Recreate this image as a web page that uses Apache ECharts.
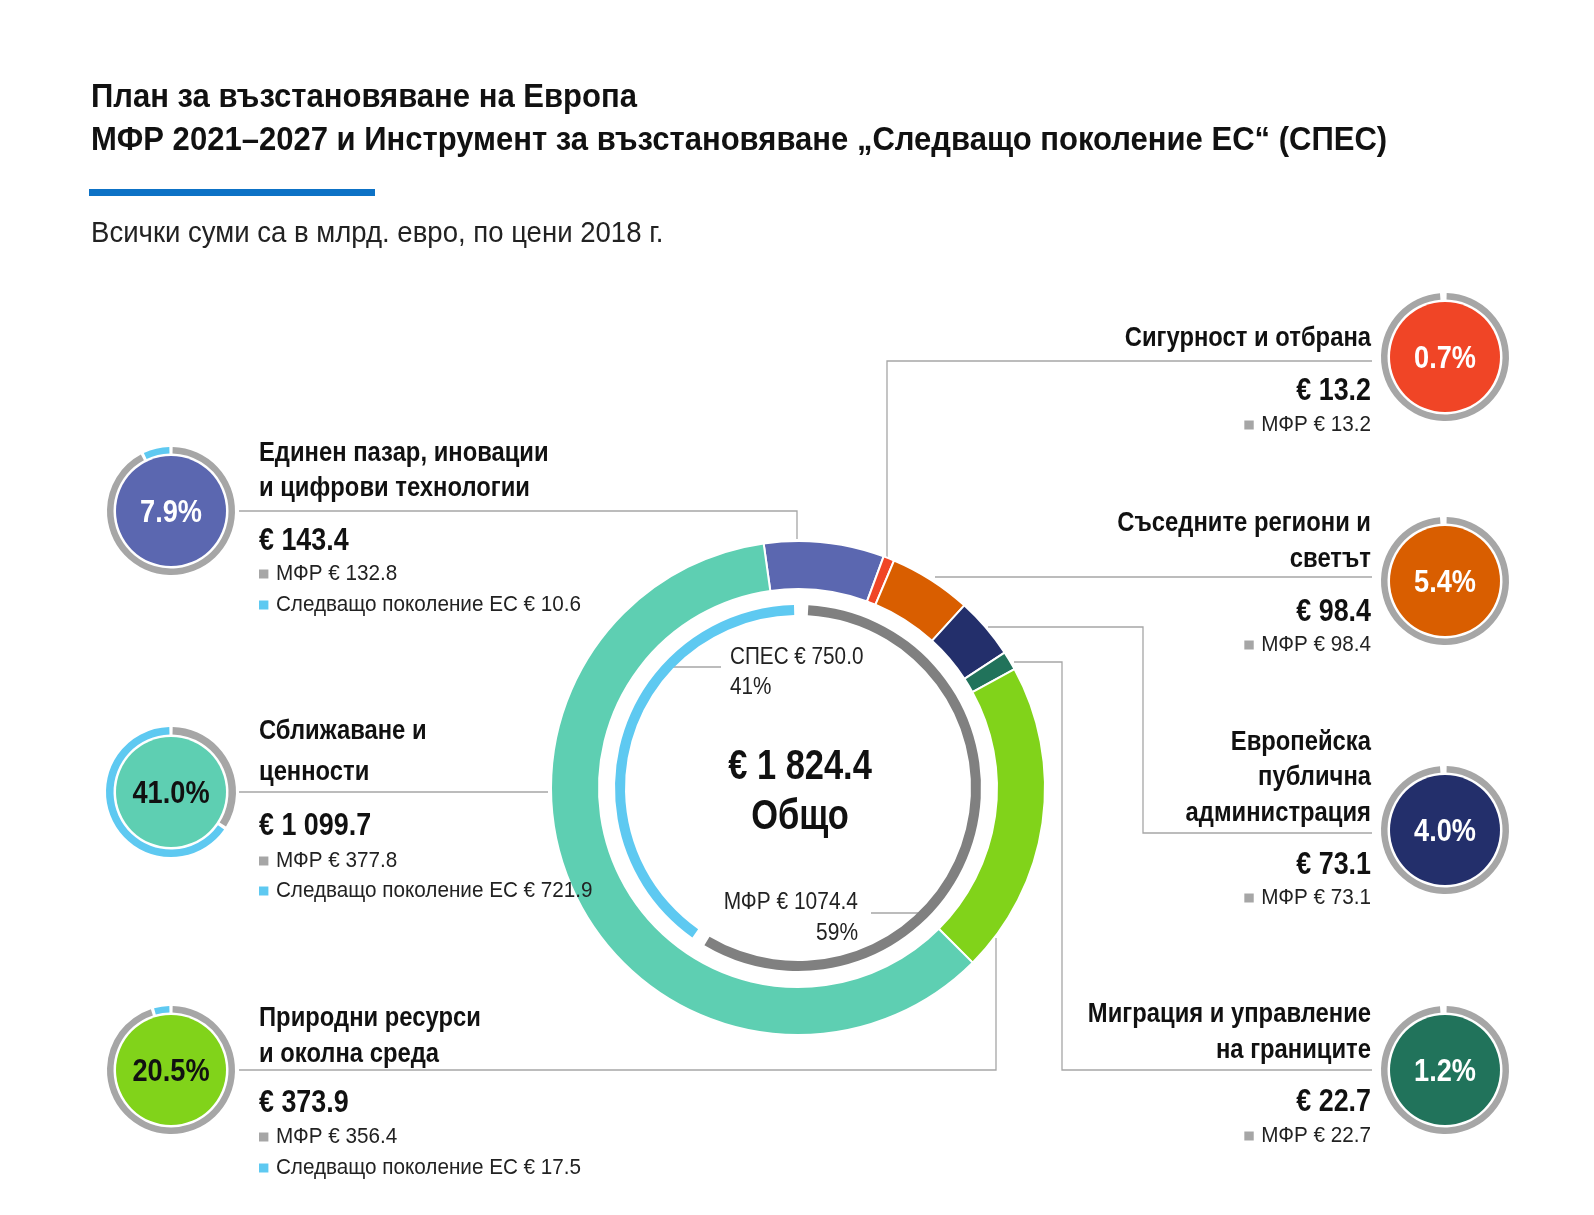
<!DOCTYPE html>
<html><head><meta charset="utf-8">
<script src="https://cdn.jsdelivr.net/npm/echarts@6/dist/echarts.min.js"></script>
<style>html,body{margin:0;padding:0;background:#fff}#c{width:1594px;height:1215px}</style>
</head><body><div id="c"></div>
<script>
// ---- data ----
const categories = ['Единен пазар, иновации\nи цифрови технологии','Сигурност и отбрана','Съседните региони и\nсветът','Европейска\nпублична\nадминистрация','Миграция и управление\nна границите','Природни ресурси\nи околна среда','Сближаване и\nценности'];
const totals = [143.4, 13.2, 98.4, 73.1, 22.7, 373.9, 1099.7];
const mffValues = [132.8, 13.2, 98.4, 73.1, 22.7, 356.4, 377.8];
const ngeuValues = [10.6, 0, 0, 0, 0, 17.5, 721.9];
const amountLabels = ['€ 143.4','€ 13.2','€ 98.4','€ 73.1','€ 22.7','€ 373.9','€ 1 099.7'];
const pctLabels = ['7.9%','0.7%','5.4%','4.0%','1.2%','20.5%','41.0%'];
const fundNames = ['МФР','СПЕС'];
const fundValues = [1074.4, 750.0];
const fundShares = ['59%','41%'];
const grandTotalLabel = '€ 1 824.4';
const totalWord = 'Общо';
const ngeuName = 'Следващо поколение ЕС';

// ---- style ----
const F = '"Liberation Sans",Arial,sans-serif';
const colors = ['#5b67b0','#f04526','#d95e00','#232f6b','#21735b','#81d31a','#5ecfb2'];
const GREY = '#a6a6a6', BLUE = '#5ec9f1', LINE = '#a6a6a6';
const pctColor = ['#fff','#fff','#fff','#fff','#fff','#111','#111'];
const C = [798, 788];

const layout = [
  {cx:171, cy:511, side:'L', tx:259, titleY:[451,486], amtY:539, subY:[572,603]},
  {cx:1445, cy:357, side:'R', tx:1371, titleY:[336], amtY:389, subY:[423]},
  {cx:1445, cy:581, side:'R', tx:1371, titleY:[521,557], amtY:610, subY:[643]},
  {cx:1445, cy:830, side:'R', tx:1371, titleY:[740,775,811], amtY:863, subY:[896]},
  {cx:1445, cy:1070, side:'R', tx:1371, titleY:[1012,1048], amtY:1100, subY:[1134]},
  {cx:171, cy:1070, side:'L', tx:259, titleY:[1016,1052], amtY:1101, subY:[1135,1166]},
  {cx:171, cy:792, side:'L', tx:259, titleY:[729,770], amtY:824, subY:[859,889]}
];
const leaders = [
  [[239,511],[797,511],[797,539]],
  [[1372,361],[887,361],[887,561]],
  [[1372,577],[935,577]],
  [[1372,833],[1143,833],[1143,627],[988,627]],
  [[1372,1070],[1062,1070],[1062,662],[1014,662]],
  [[239,1070],[996,1070],[996,938]],
  [[239,792],[548,792]]
];

const series = [];
series.push({
  type:'pie', center:C, radius:[199,247], startAngle:98, clockwise:true, silent:true,
  label:{show:false}, labelLine:{show:false},
  itemStyle:{borderColor:'#fff', borderWidth:2},
  data: categories.map((n,i)=>({name:n, value:totals[i], itemStyle:{color:colors[i]}}))
});
series.push({
  type:'pie', center:C, radius:[173,183], startAngle:89, padAngle:4.5, clockwise:true, silent:true,
  label:{show:false}, labelLine:{show:false},
  data: fundNames.map((n,i)=>({name:n, value:fundValues[i], itemStyle:{color:i===0?'#808080':BLUE}}))
});
layout.forEach((L,i)=>{
  const big = i===6;
  series.push({
    type:'pie', center:[L.cx,L.cy], radius:[57.5, big?65:64], startAngle:90, padAngle:3, clockwise:true, silent:true,
    label:{show:false}, labelLine:{show:false}, stillShowZeroSum:true,
    data:[{value:mffValues[i], itemStyle:{color:GREY}},{value:ngeuValues[i], itemStyle:{color:BLUE}}]
  });
  series.push({
    type:'pie', center:[L.cx,L.cy], radius:[0,55], silent:true, labelLine:{show:false},
    label:{show:false},
    data:[{value:totals[i], itemStyle:{color:colors[i]}}]
  });
});

const g = [];
const DY = 2;
function txt(t, x, y, font, fill, align, sx, extra){
  const st = Object.assign({text:t, x:0, y:0, font:font, fill:fill, textAlign:align||'left', textVerticalAlign:'middle'}, extra||{});
  g.push({type:'text', x:x, y:y+DY, scaleX:sx, style:st, z:10});
}
txt('План за възстановяване на Европа', 91, 96, 'bold 33px '+F, '#111', 'left', 0.94);
txt('МФР 2021–2027 и Инструмент за възстановяване „Следващо поколение ЕС“ (СПЕС)', 91, 139, 'bold 33px '+F, '#111', 'left', 0.94);
g.push({type:'rect', shape:{x:89, y:189, width:286, height:7}, style:{fill:'#0d72c6'}});
txt('Всички суми са в млрд. евро, по цени 2018 г.', 91, 232, '29px '+F, '#222', 'left', 0.95);

leaders.forEach(pts=>{
  g.push({type:'polyline', shape:{points:pts}, style:{stroke:LINE, lineWidth:1.3, fill:null}, z:1});
});

layout.forEach((L,i)=>{
  const align = L.side==='L'?'left':'right';
  categories[i].split('\n').forEach((t,k)=>txt(t, L.tx, L.titleY[k], 'bold 28px '+F, '#111', align, 0.85));
  txt(amountLabels[i], L.tx, L.amtY, 'bold 32px '+F, '#111', align, 0.84);
  const subs = [{t:fundNames[0]+' € '+mffValues[i].toFixed(1), c:GREY}];
  if (ngeuValues[i]>0) subs.push({t:ngeuName+' € '+ngeuValues[i].toFixed(1), c:BLUE});
  subs.forEach((s,k)=>{
    txt('{sq|}{sp|}'+s.t, L.tx, L.subY[k], '22px '+F, '#222', align, 0.94,
        {rich:{sq:{width:10, height:9, backgroundColor:s.c}, sp:{width:8}}});
  });
  txt(pctLabels[i], L.cx, L.cy, 'bold 32px '+F, pctColor[i], 'center', 0.85);
});

// inner ring annotations
g.push({type:'polyline', shape:{points:[[671,667],[721,667]]}, style:{stroke:LINE, lineWidth:1.3, fill:null}});
txt(fundNames[1]+' € '+fundValues[1].toFixed(1), 730, 656, '23px '+F, '#222', 'left', 0.9);
txt(fundShares[1], 730, 686, '23px '+F, '#222', 'left', 0.9);
g.push({type:'polyline', shape:{points:[[871,913],[921,913]]}, style:{stroke:LINE, lineWidth:1.3, fill:null}});
txt(fundNames[0]+' € '+fundValues[0].toFixed(1), 858, 901, '23px '+F, '#222', 'right', 0.91);
txt(fundShares[0], 858, 932, '23px '+F, '#222', 'right', 0.91);
// center total
txt(grandTotalLabel, 800, 765, 'bold 42px '+F, '#111', 'center', 0.82);
txt(totalWord, 800, 815, 'bold 42px '+F, '#111', 'center', 0.82);

const chart = echarts.init(document.getElementById('c'), null, {renderer:'canvas'});
chart.setOption({animation:false, backgroundColor:'#fff', series:series, graphic:g});
</script></body></html>
